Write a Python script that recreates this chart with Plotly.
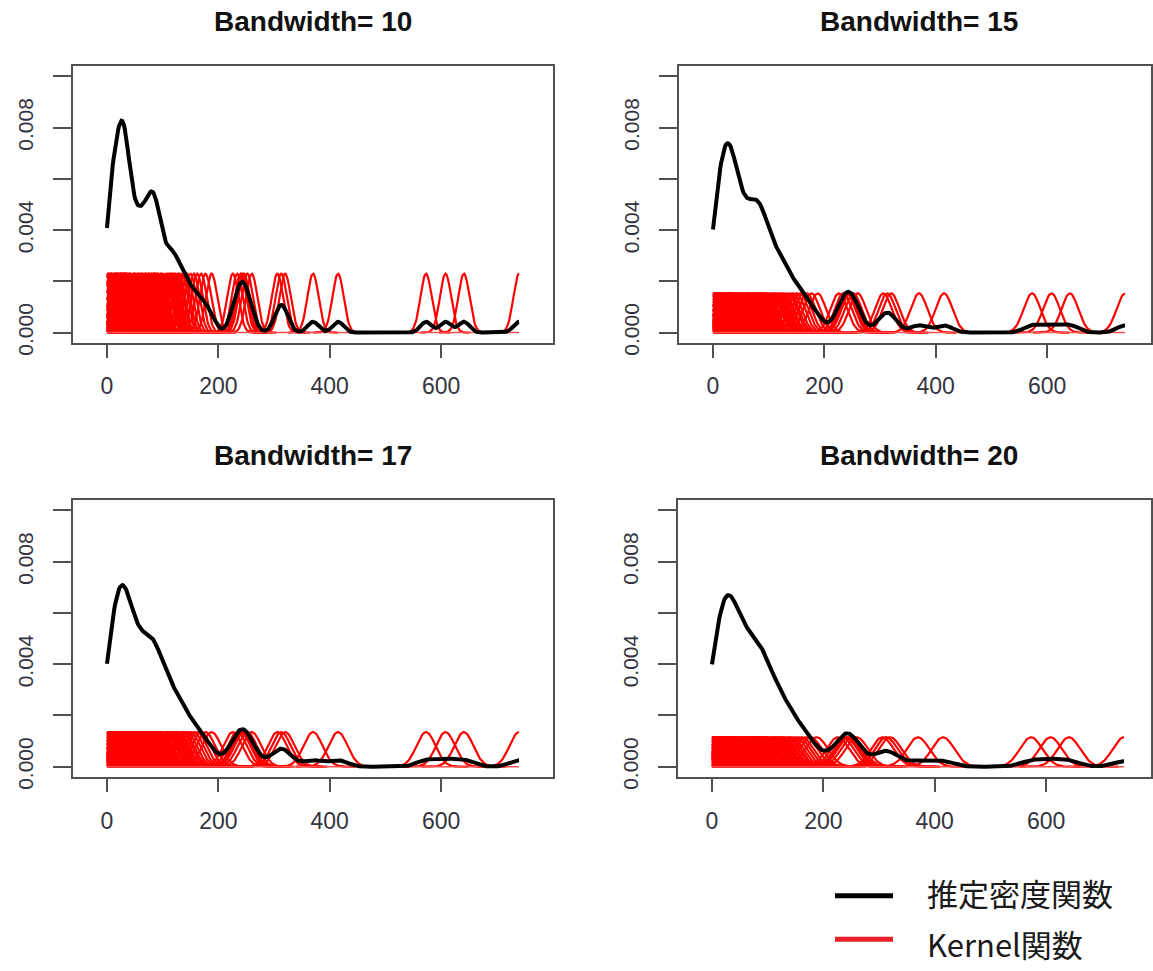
import numpy as np
import plotly.graph_objects as go

# ---------------- data ----------------
bandwidths = [10, 15, 17, 20]
kernel_peaks = [0.0023, 0.00153, 0.00135, 0.00115]   # drawn height of each red kernel
samples_main = [0, 1, 2, 3, 4, 6, 7, 9, 11, 13, 14, 16, 17, 19, 20, 21, 23, 24, 25, 26,
                27, 28, 29, 30, 31, 32, 33, 34, 35, 37, 38, 40, 42, 44, 47, 49, 51,
                53, 56, 58, 60, 62, 64, 66, 69, 71, 73, 75, 77, 79, 80, 82, 84, 85,
                87, 89, 90, 92, 95, 97, 100, 105, 108, 111, 114, 117, 120, 123, 127,
                130, 135, 139, 144, 150, 156, 162, 169, 177, 188]
samples_tail = [226, 234, 240, 243, 246, 252, 260, 306, 313, 320, 370, 415, 573, 608, 641,
                740]
x_tick_vals = [0, 200, 400, 600]
y_tick_vals = [0.0, 0.002, 0.004, 0.006, 0.008, 0.010]
y_tick_text = ["0.000", "", "0.004", "", "0.008", ""]
titles = ["Bandwidth= %d" % b for b in bandwidths]
legend_labels = ["推定密度関数", "Kernel関数"]

# ---------------- layout geometry (pixels) ----------------
W, H = 1153, 971
panel_px = [  # (left, right, top, bottom)
    (73, 553, 67, 347.5),
    (679, 1151, 67, 347.5),
    (73, 553, 507, 787.5),
    (678, 1151, 507, 787.5),
]
x_left_val = -61.0
px_per_unit = 480.0 / 862.0
y_range = [-0.0004, 0.0104]

data = np.array(samples_main + samples_tail, dtype=float)
grid = np.linspace(data.min(), data.max(), 512)


def gauss(u, s):
    return np.exp(-0.5 * (u / s) ** 2) / (s * np.sqrt(2 * np.pi))


fig = go.Figure()
axis_font = dict(family="Liberation Sans, Arial, sans-serif", size=23, color="#333340")
box_col = "#505050"

for k, (bw, hk) in enumerate(zip(bandwidths, kernel_peaks)):
    xa = "x" if k == 0 else "x%d" % (k + 1)
    ya = "y" if k == 0 else "y%d" % (k + 1)
    # red kernels
    kx, ky = [], []
    for xi in data:
        m = np.abs(grid - xi) <= 4.5 * bw
        g = grid[m]
        kx.extend(np.round(g, 3).tolist() + [None])
        ky.extend(np.round(hk * np.exp(-0.5 * ((g - xi) / bw) ** 2), 8).tolist() + [None])
    fig.add_trace(go.Scatter(x=kx, y=ky, mode="lines", xaxis=xa, yaxis=ya,
                             line=dict(color="#ff0000", width=2.2), showlegend=False,
                             hoverinfo="skip"))
    # red baseline formed by kernel tails
    fig.add_trace(go.Scatter(x=[grid[0], grid[-1]], y=[0, 0], mode="lines", xaxis=xa, yaxis=ya,
                             line=dict(color="#ff5050", width=1.5), showlegend=False,
                             hoverinfo="skip"))
    dens = gauss(grid[:, None] - data[None, :], bw).mean(axis=1)
    fig.add_trace(go.Scatter(x=grid, y=dens, mode="lines", xaxis=xa, yaxis=ya,
                             line=dict(color="#000000", width=4), showlegend=False))

    l, r, t, b = panel_px[k]
    xr = [x_left_val, x_left_val + (r - l) / px_per_unit]
    xkey = "xaxis" if k == 0 else "xaxis%d" % (k + 1)
    ykey = "yaxis" if k == 0 else "yaxis%d" % (k + 1)
    fig.layout[xkey] = dict(domain=[l / W, r / W], range=xr, anchor=ya,
                            tickvals=x_tick_vals, ticks="outside", ticklen=13, tickwidth=2,
                            tickcolor=box_col, showline=True, linecolor=box_col, linewidth=2,
                            mirror=True, showgrid=False, zeroline=False, tickfont=axis_font,
                            ticklabelstandoff=9)
    fig.layout[ykey] = dict(domain=[1 - b / H, 1 - t / H], range=y_range, anchor=xa,
                            tickvals=y_tick_vals, ticktext=y_tick_text, ticks="outside",
                            ticklen=18, tickwidth=2, tickcolor=box_col, showline=True,
                            linecolor=box_col, linewidth=2, mirror=True, showgrid=False,
                            zeroline=False, tickangle=-90,
                            tickfont=dict(family="Liberation Sans, Arial, sans-serif", size=21,
                                          color="#333340"),
                            ticklabelstandoff=12)
    cx = (l + 1159) / 2.0 if k % 2 else (l + r) / 2.0
    fig.add_annotation(x=cx / W, y=1 - (22 + (440 if k >= 2 else 0)) / H, xref="paper",
                       yref="paper", text=titles[k], showarrow=False, xanchor="center",
                       yanchor="middle",
                       font=dict(family="Liberation Sans, Arial, sans-serif", size=28,
                                 color="#111111", weight=700))

# legend (drawn manually to mimic the reference)
leg_y = [908, 952]
leg_cols = ["#000000", "#e8202a"]
text_y = [905, 956]
for i in range(2):
    fig.add_shape(type="line", xref="paper", yref="paper", x0=835 / W, x1=893 / W,
                  y0=1 - leg_y[i] / H, y1=1 - leg_y[i] / H,
                  line=dict(color=leg_cols[i], width=5))
    fig.add_annotation(x=925 / W, y=1 - text_y[i] / H, xref="paper", yref="paper",
                       text=legend_labels[i], showarrow=False, xanchor="left",
                       yanchor="middle",
                       font=dict(family="Noto Sans CJK JP, sans-serif", size=31,
                                 color="#1a1a1a"))

fig.update_layout(width=W, height=H, margin=dict(l=0, r=0, t=0, b=0),
                  paper_bgcolor="white", plot_bgcolor="white", showlegend=False)
fig.write_html("out.html")
